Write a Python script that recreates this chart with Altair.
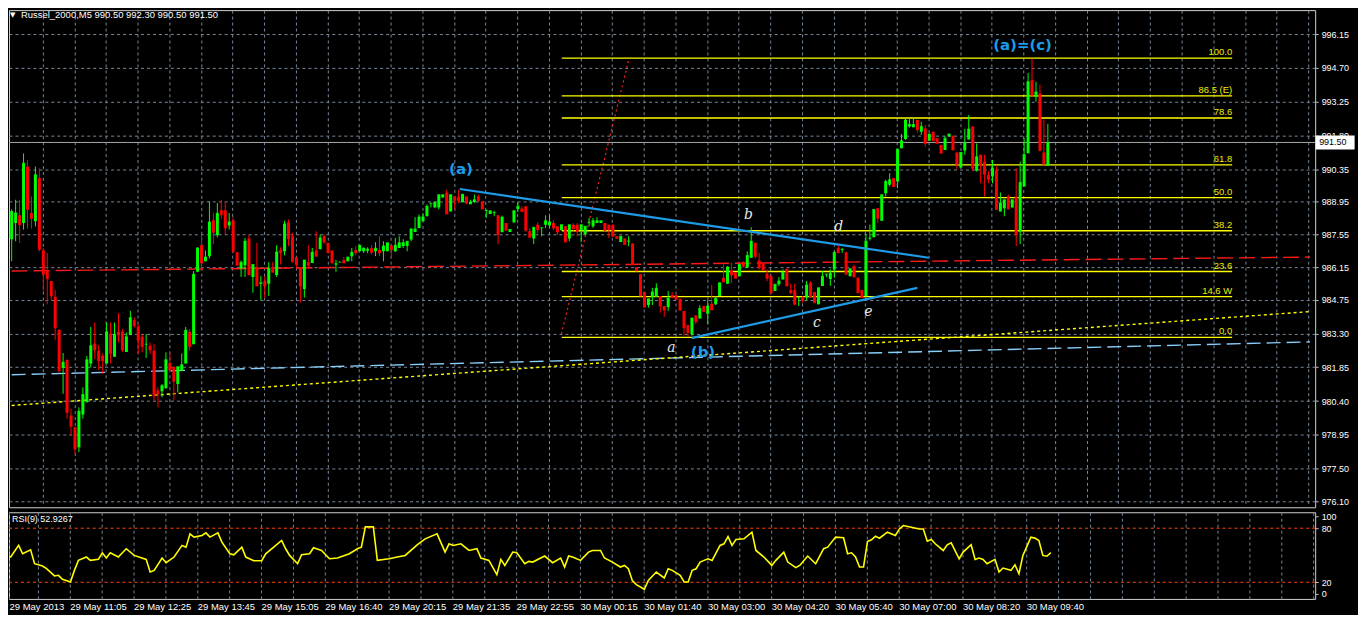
import json
import altair as alt
import pandas as pd

# ---------------- data ----------------
O = [
987.35, 988.04, 988.37, 988.04, 990.47, 988.47, 988.12, 989.97, 986.86, 985.98,
985.55, 984.88, 983.46, 981.82, 982.17, 979.78, 979.28, 978.42, 979.82, 980.35,
982.01, 982.87, 982.56, 982.34, 982.01, 983.30, 982.30, 983.37, 983.37, 982.51,
983.24, 983.88, 983.60, 983.16, 982.84, 982.77, 982.56, 980.85, 980.82, 980.96,
982.03, 981.87, 981.13, 981.70, 982.01, 983.37, 982.84, 985.95, 987.09, 986.40,
986.62, 988.16, 987.52, 988.59, 988.59, 987.94, 988.16, 986.79, 986.09, 986.23,
987.38, 985.72, 986.15, 985.43, 985.55, 985.43, 986.15, 985.81, 986.88, 986.83,
988.07, 987.47, 986.58, 986.12, 985.21, 986.36, 986.33, 986.86, 986.93, 987.47,
987.19, 986.86, 986.26, 986.36, 986.45, 986.40, 986.62, 986.88, 986.83, 986.83,
986.85, 986.96, 986.83, 986.88, 986.83, 986.83, 987.08, 986.83, 986.97, 987.05,
987.05, 987.33, 987.66, 987.83, 988.12, 988.33, 988.88, 988.71, 988.71, 989.14,
989.35, 988.54, 989.18, 989.18, 988.93, 989.18, 988.85, 988.94, 989.18, 988.97,
988.57, 988.43, 988.47, 988.37, 987.65, 988.04, 987.66, 988.07, 988.64, 988.66,
988.76, 987.69, 987.38, 987.97, 987.83, 987.97, 987.94, 988.04, 987.90, 987.73,
987.90, 987.38, 987.97, 987.97, 987.73, 987.55, 988.04, 987.90, 988.04, 988.04,
988.04, 987.97, 987.97, 987.47, 987.23, 987.38, 987.26, 987.16, 986.15, 985.84,
985.08, 984.52, 984.87, 984.87, 984.91, 984.48, 984.44, 984.95, 984.95, 984.79,
984.27, 983.66, 983.27, 984.08, 983.94, 984.48, 984.15, 984.58, 984.55, 984.91,
985.69, 985.43, 986.01, 985.93, 985.76, 986.37, 986.12, 986.55, 987.19, 986.43,
986.33, 985.86, 985.76, 985.12, 985.41, 985.62, 986.08, 985.17, 985.17, 984.84,
984.84, 984.84, 985.48, 985.08, 984.55, 985.34, 985.84, 985.64, 986.05, 986.97,
986.89, 986.79, 985.76, 986.19, 985.69, 985.17, 984.91, 987.38, 987.43, 988.68,
988.14, 989.32, 989.68, 989.97, 989.82, 991.25, 991.65, 992.18, 992.15, 992.46,
991.96, 992.10, 991.57, 991.96, 991.68, 991.39, 991.18, 991.75, 991.79, 991.07,
990.42, 991.15, 991.63, 992.18, 990.28, 990.97, 990.68, 990.11, 990.04, 990.33,
988.54, 988.68, 989.18, 988.71, 989.18, 987.69, 989.61, 991.04, 994.17, 993.46,
993.60, 991.07, 990.50]

C = [
988.54, 988.47, 987.97, 990.61, 988.62, 988.23, 990.11, 986.90, 985.84, 985.65,
984.91, 983.55, 981.70, 982.06, 979.92, 979.32, 978.36, 979.96, 980.68, 982.17,
982.77, 982.59, 982.13, 982.13, 983.37, 982.44, 983.27, 983.24, 982.59, 983.16,
983.98, 983.63, 983.03, 982.74, 982.84, 982.59, 980.63, 980.71, 981.06, 982.17,
981.73, 981.25, 981.87, 981.96, 983.44, 982.74, 985.84, 986.97, 986.33, 986.58,
988.09, 987.65, 988.46, 988.40, 987.83, 988.09, 986.83, 986.23, 986.36, 987.26,
985.81, 986.26, 985.34, 985.48, 985.34, 986.09, 985.93, 986.80, 986.76, 988.00,
987.36, 986.40, 986.26, 985.34, 986.45, 986.23, 986.79, 986.62, 987.40, 987.23,
986.76, 986.33, 986.29, 986.37, 986.33, 986.58, 986.79, 986.76, 987.09, 986.97,
986.92, 986.79, 986.96, 986.76, 987.05, 987.19, 986.90, 987.09, 987.19, 987.19,
987.26, 987.79, 987.79, 988.30, 988.30, 988.76, 988.89, 988.93, 989.26, 989.26,
988.43, 989.26, 989.01, 989.01, 989.28, 988.90, 988.94, 989.04, 989.01, 988.64,
988.58, 988.57, 988.48, 987.55, 988.29, 987.73, 987.76, 988.57, 988.76, 988.54,
987.73, 987.43, 987.86, 987.76, 987.84, 988.14, 988.09, 987.83, 987.66, 987.97,
987.23, 987.97, 987.80, 987.69, 987.97, 987.90, 988.05, 988.14, 988.14, 988.14,
987.73, 987.76, 987.47, 987.38, 987.47, 987.12, 987.27, 986.26, 985.98, 984.91,
984.44, 984.79, 985.08, 985.24, 984.48, 984.31, 984.81, 984.84, 984.77, 984.30,
983.55, 983.34, 983.96, 983.81, 984.37, 984.24, 984.48, 984.31, 984.81, 985.48,
985.51, 986.15, 985.81, 985.67, 986.26, 986.19, 986.65, 987.26, 986.62, 986.12,
986.01, 985.67, 985.05, 985.41, 985.55, 985.93, 985.34, 985.05, 984.55, 984.85,
984.73, 985.38, 984.87, 984.62, 985.26, 985.76, 985.85, 985.89, 986.79, 986.76,
986.90, 985.84, 986.08, 985.72, 985.05, 984.84, 987.26, 987.40, 988.62, 988.23,
989.26, 989.82, 989.90, 989.61, 991.21, 991.57, 992.46, 992.27, 992.27, 992.06,
992.18, 991.46, 991.86, 991.57, 991.46, 991.04, 991.68, 991.86, 991.18, 990.56,
991.07, 991.49, 992.08, 990.39, 990.89, 990.51, 990.14, 989.92, 990.39, 988.62,
988.90, 989.04, 988.64, 989.04, 987.55, 989.78, 990.97, 994.10, 993.53, 993.67,
991.15, 990.56, 991.50]

H = [
988.63, 989.04, 989.04, 991.03, 990.75, 989.18, 990.47, 990.39, 986.97, 986.76,
985.55, 985.17, 983.46, 982.46, 982.17, 980.07, 979.28, 980.13, 980.99, 982.34,
983.58, 983.77, 982.81, 982.44, 983.77, 983.77, 983.77, 984.17, 983.49, 983.34,
984.27, 983.98, 983.70, 983.27, 983.27, 982.91, 982.84, 980.99, 981.13, 982.49,
982.49, 981.87, 981.87, 982.44, 983.58, 983.49, 985.98, 987.00, 987.55, 986.86,
988.97, 988.47, 988.90, 989.04, 988.97, 988.47, 988.30, 986.79, 986.43, 987.40,
987.55, 986.26, 987.19, 985.76, 985.76, 986.36, 986.36, 987.09, 987.00, 988.14,
988.19, 987.61, 986.58, 986.15, 986.45, 987.09, 986.97, 987.69, 987.55, 987.55,
987.19, 986.86, 986.45, 986.38, 986.58, 986.58, 986.97, 987.05, 987.09, 986.97,
987.00, 987.09, 987.22, 987.47, 987.26, 987.19, 987.09, 987.40, 987.47, 987.35,
987.26, 987.82, 988.29, 988.41, 988.46, 988.84, 988.90, 988.93, 989.27, 989.26,
989.47, 989.26, 989.18, 989.47, 989.28, 989.18, 989.04, 989.26, 989.26, 988.97,
988.62, 988.57, 988.57, 988.37, 988.36, 988.04, 987.76, 988.57, 988.90, 988.76,
988.76, 987.83, 987.86, 988.07, 987.85, 988.37, 988.37, 988.16, 987.90, 987.97,
987.90, 987.97, 988.04, 988.04, 987.97, 987.90, 988.26, 988.26, 988.29, 988.14,
988.04, 987.97, 987.97, 987.47, 987.47, 987.38, 987.47, 987.16, 986.15, 985.84,
985.08, 984.79, 985.26, 985.45, 984.91, 984.48, 985.12, 985.08, 984.95, 984.79,
984.27, 983.66, 983.96, 984.08, 984.51, 984.48, 984.73, 985.38, 984.91, 985.48,
986.33, 986.19, 986.33, 985.93, 986.29, 986.40, 986.83, 987.86, 987.19, 986.76,
986.33, 986.05, 985.84, 985.41, 985.72, 986.05, 986.08, 985.44, 985.44, 984.85,
984.91, 985.55, 985.55, 985.08, 985.26, 985.98, 985.85, 986.05, 986.79, 987.12,
986.97, 986.79, 986.08, 986.26, 985.69, 985.17, 987.55, 987.97, 988.62, 988.68,
989.26, 989.90, 990.18, 989.97, 991.21, 991.86, 992.56, 992.53, 992.56, 992.46,
992.39, 992.25, 991.86, 991.96, 991.68, 991.39, 991.79, 991.86, 991.79, 991.07,
991.07, 992.08, 992.68, 992.18, 991.46, 990.97, 990.97, 990.28, 990.75, 990.47,
989.35, 989.04, 989.26, 989.04, 990.39, 990.68, 991.68, 994.48, 995.10, 994.10,
993.98, 992.49, 992.30]

L = [
986.40, 987.26, 987.19, 987.76, 987.80, 987.80, 987.90, 986.83, 985.12, 984.55,
984.70, 983.03, 981.60, 980.71, 979.64, 978.92, 978.15, 978.21, 979.64, 980.35,
981.84, 982.20, 981.73, 981.56, 982.01, 982.01, 982.30, 982.91, 982.51, 982.51,
983.24, 983.55, 982.42, 982.49, 982.25, 982.42, 980.42, 980.13, 980.56, 980.92,
981.70, 980.42, 980.77, 981.70, 982.01, 982.56, 982.84, 985.93, 985.98, 986.40,
986.52, 987.14, 987.43, 988.23, 987.55, 987.76, 986.73, 986.23, 985.73, 985.73,
985.81, 985.05, 985.34, 984.74, 984.84, 984.91, 985.93, 985.72, 986.26, 986.66,
987.05, 986.33, 986.09, 984.62, 984.84, 986.09, 986.33, 986.62, 986.90, 987.14,
986.76, 986.33, 985.95, 986.35, 986.33, 986.40, 986.40, 986.66, 986.83, 986.76,
986.75, 986.70, 986.62, 986.62, 986.40, 986.83, 986.53, 986.80, 986.97, 986.97,
986.83, 987.26, 987.66, 987.82, 988.12, 988.33, 988.71, 988.71, 988.63, 989.14,
988.43, 988.54, 988.63, 988.90, 988.93, 988.85, 988.85, 988.90, 988.97, 988.64,
988.26, 988.43, 988.33, 987.14, 987.65, 987.73, 987.66, 988.04, 988.51, 988.54,
987.66, 987.40, 987.14, 987.61, 987.47, 987.83, 987.83, 987.73, 987.52, 987.73,
987.23, 987.26, 987.69, 987.47, 987.23, 987.55, 987.90, 987.83, 988.04, 988.04,
987.69, 987.40, 987.47, 987.38, 987.23, 987.12, 987.05, 986.23, 985.98, 984.91,
984.41, 984.41, 984.52, 984.87, 984.19, 984.01, 984.27, 984.84, 984.77, 984.30,
983.20, 983.17, 983.20, 983.70, 983.94, 984.24, 983.70, 984.31, 984.52, 984.91,
985.51, 985.43, 985.48, 985.67, 985.76, 986.12, 986.12, 986.55, 986.53, 986.05,
986.01, 985.55, 984.98, 985.12, 985.34, 985.62, 985.34, 984.98, 984.52, 984.48,
984.62, 984.73, 984.87, 984.62, 984.55, 985.34, 985.72, 985.34, 985.69, 986.76,
986.76, 985.84, 985.76, 985.72, 985.05, 984.84, 984.84, 987.29, 987.43, 988.04,
988.14, 989.18, 989.61, 989.61, 989.54, 991.25, 991.61, 992.13, 992.15, 991.93,
991.82, 991.32, 991.57, 991.57, 991.46, 991.04, 991.18, 991.75, 991.18, 990.34,
990.42, 990.97, 991.63, 990.28, 990.25, 989.75, 989.18, 989.75, 989.75, 988.62,
988.54, 988.33, 988.64, 988.71, 987.05, 987.14, 989.61, 991.04, 993.53, 993.25,
991.15, 990.56, 990.50]

rsi_bar = [0, 1, 3, 4, 6, 7, 9, 10, 12, 13, 14, 16, 17, 18, 20, 21, 23, 24, 25, 26,
           28, 30, 32, 35, 36, 37, 39, 40, 42, 44, 45, 46, 47, 49, 50, 51, 53, 54, 56, 57,
           59, 60, 62, 64, 65, 67, 69, 70, 71, 73, 74, 76, 77, 79, 81, 83, 86, 88, 89, 90,
           92, 93, 96, 98, 100, 103, 105, 108, 110, 111, 112, 114, 116, 118, 119, 121, 123, 124, 125, 127,
           128, 130, 131, 132, 135, 137, 139, 140, 141, 142, 144, 146, 147, 149, 150, 152, 154, 155, 156, 157,
           158, 160, 161, 163, 165, 166, 167, 169, 170, 171, 172, 173, 174, 175, 176, 177, 179, 180, 181, 182,
           183, 185, 187, 188, 190, 192, 193, 195, 196, 198, 199, 201, 203, 205, 206, 208, 210, 211, 212, 213,
           214, 215, 216, 217, 218, 219, 221, 223, 224, 225, 227, 229, 230, 231, 232, 233, 235, 236, 237, 239,
           240, 242, 243, 244, 245, 246, 248, 249, 250, 252, 253, 254, 255, 257, 258, 259, 260, 261, 262]
rsi_val = [49.8, 48.0, 60.9, 51.6, 56.0, 40.6, 38.0, 35.1, 27.0, 27.7, 23.3, 20.3, 33.2, 44.3, 48.0, 44.3, 45.4, 52.7, 46.9, 52.7,
           48.0, 57.2, 49.8, 45.4, 31.4, 33.2, 46.9, 41.7, 48.0, 60.9, 59.0, 73.7, 70.1, 71.9, 74.8, 70.1, 74.8, 64.5, 51.6, 50.5,
           59.0, 48.0, 43.9, 43.9, 51.6, 59.0, 66.4, 57.2, 49.8, 40.6, 50.5, 51.6, 58.3, 55.3, 46.1, 46.9, 51.6, 57.2, 59.0, 81.5,
           81.5, 44.3, 46.1, 48.0, 49.8, 61.6, 68.2, 73.7, 53.5, 62.7, 60.9, 62.7, 55.3, 57.2, 46.9, 44.3, 28.4, 45.4, 38.7, 53.5,
           52.7, 40.6, 43.2, 42.4, 49.1, 41.7, 46.9, 36.9, 49.1, 48.0, 44.3, 53.5, 55.3, 55.3, 46.9, 42.4, 36.9, 38.7, 35.0, 21.8,
           17.4, 12.2, 22.1, 31.4, 24.8, 35.0, 33.2, 27.7, 20.3, 20.3, 33.2, 35.0, 42.4, 44.3, 46.1, 44.3, 60.9, 62.7, 70.8, 60.9,
           67.5, 68.2, 75.6, 55.3, 48.0, 38.7, 44.3, 53.5, 42.4, 36.2, 38.7, 49.1, 40.6, 57.2, 59.0, 70.1, 69.4, 51.6, 52.7, 48.0,
           36.9, 36.9, 65.3, 67.1, 71.2, 68.9, 75.6, 71.9, 79.2, 82.9, 81.1, 79.2, 79.2, 65.6, 67.5, 62.7, 55.3, 61.6, 63.8, 46.1,
           53.5, 61.6, 45.4, 46.9, 45.4, 40.6, 45.4, 31.4, 35.8, 33.2, 39.4, 29.5, 49.8, 70.1, 69.0, 66.4, 49.8, 48.9, 52.9267]
rsi_levels = [80, 20]

price_ticks = [996.15, 994.70, 993.25, 991.80, 990.35, 988.95, 987.55, 986.15,
               984.75, 983.30, 981.85, 980.40, 978.95, 977.50, 976.10]
time_labels = ["29 May 2013", "29 May 11:05", "29 May 12:25", "29 May 13:45", "29 May 15:05",
               "29 May 16:40", "29 May 20:15", "29 May 21:35", "29 May 22:55", "30 May 00:15",
               "30 May 01:40", "30 May 03:00", "30 May 04:20", "30 May 05:40", "30 May 07:00",
               "30 May 08:20", "30 May 09:40"]

fib_price = [995.12, 993.50, 992.55, 990.54, 989.13, 987.71, 985.96, 984.88, 983.13]
fib_text = ["100.0", "86.5 (E)", "78.6", "61.8", "50.0", "38.2", "23.6", "14.6 W", "0.0"]
fib_from_bar, fib_to_bar = 139.1, 308.6

# drawn lines: (bar, price) end points
red_dash_bar, red_dash_price = [0, 328.3], [985.98, 986.58]
blue_dash_bar, blue_dash_price = [0, 328.3], [981.53, 982.94]
yel_dot_bar, yel_dot_price = [0, 328.3], [980.21, 984.24]
red_dot_bar, red_dot_price = [139.0, 156.1], [983.28, 995.10]
upper_bar, upper_price = [113.3, 231.9], [989.50, 986.55]
lower_bar, lower_price = [171.9, 229.0], [983.10, 985.26]

wave_text = ["(a)", "(b)", "(a)=(c)"]
wave_bar = [113.6, 174.8, 255.6]
wave_price = [990.34, 982.51, 995.68]
small_text = ["a", "b", "c", "d", "e"]
small_bar = [166.8, 186.3, 203.6, 209.1, 216.6]
small_price = [982.69, 988.37, 983.75, 987.86, 984.22]

last_price = 991.50
header = "Russel_2000,M5  990.50 992.30 990.50 991.50"
rsi_header = "RSI(9) 52.9267"

# ---------------- chart ----------------
FONT = "Liberation Sans"
W, H_MAIN, H_RSI = 1311, 499, 87
GRID = "#778899"
BLUE = "#1e9be6"

candles = pd.DataFrame({"bar": list(range(len(C))), "open": O, "high": H, "low": L, "close": C})
candles["dir"] = ["up" if c >= o else "down" for o, c in zip(O, C)]
dir_color = alt.Color("dir:N", scale=alt.Scale(domain=["up", "down"], range=["#00ff00", "#ff0000"]), legend=None)

xs = alt.Scale(domain=[0.58, 328.33], nice=False, zero=False)
ys = alt.Scale(domain=[975.84, 997.18], nice=False, zero=False)
grid_vals = [round(7.83 + 8 * k, 2) for k in range(41)]

x_axis_main = alt.Axis(values=grid_vals, labels=False, ticks=False, domain=False, grid=True,
                       gridColor=GRID, gridDash=[3, 3], gridOpacity=1, title=None)
y_axis_main = alt.Axis(orient="right", values=price_ticks, format=".2f", labelColor="#ffffff",
                       labelFont=FONT, labelFontSize=9, tickColor="#c0c0c0", tickSize=3,
                       labelPadding=3, domain=False, grid=True, gridColor=GRID, gridDash=[3, 3],
                       gridOpacity=1, title=None, labelOverlap=False, labelBound=False)


def X(f):
    return alt.X(f, type="quantitative", scale=xs, axis=x_axis_main)


def Y(f):
    return alt.Y(f, type="quantitative", scale=ys, axis=y_axis_main)


base = alt.Chart(candles)
wicks = base.mark_rule(strokeWidth=1, clip=True).encode(x=X("bar"), y=Y("low"), y2="high", color=dir_color)
bodies = base.mark_bar(size=3, clip=True).encode(x=X("bar"), y=Y("open"), y2="close", color=dir_color)
dojis = base.mark_tick(orient="horizontal", size=3, thickness=1, clip=True).encode(
    x=X("bar"), y=Y("close"), color=dir_color)


def seg(bars, prices, color, width, dash=None):
    df = pd.DataFrame({"bar": bars, "price": prices})
    kw = dict(color=color, strokeWidth=width, clip=True)
    if dash:
        kw["strokeDash"] = dash
    return alt.Chart(df).mark_line(**kw).encode(x=X("bar"), y=Y("price"))


red_dash = seg(red_dash_bar, red_dash_price, "#ff1a1a", 1.4, [16, 6])
blue_dash = seg(blue_dash_bar, blue_dash_price, "#87cefa", 1.4, [14, 6])
yel_dot = seg(yel_dot_bar, yel_dot_price, "#ffff00", 1.4, [3, 3])
red_dot = seg(red_dot_bar, red_dot_price, "#ff2020", 1.2, [2, 3])
upper = seg(upper_bar, upper_price, BLUE, 2.2)
lower = seg(lower_bar, lower_price, BLUE, 2.2)

fib_df = pd.DataFrame({"price": fib_price, "text": fib_text,
                       "x1": [fib_from_bar] * len(fib_price), "x2": [fib_to_bar] * len(fib_price)})
fib_lines = alt.Chart(fib_df).mark_rule(color="#ffff00", strokeWidth=1.3).encode(x=X("x1"), x2="x2", y=Y("price"))
fib_labels = alt.Chart(fib_df).mark_text(align="right", baseline="bottom", dy=-1, color="#eeee00",
                                         font=FONT, fontSize=9.5).encode(x=X("x2"), y=Y("price"), text="text")

last_df = pd.DataFrame({"price": [last_price], "label": [f"{last_price:.2f}"]})
last_line = alt.Chart(last_df).mark_rule(color="#a8a8a8", strokeWidth=1).encode(y=Y("price"))
last_box = alt.Chart(last_df).mark_point(shape="M-1.4,-0.5L1.4,-0.5L1.4,0.5L-1.4,0.5Z", size=784,
                                         filled=True, color="#ffffff", opacity=1, strokeWidth=0).encode(
    x=alt.value(W + 20), y=Y("price"))
last_text = alt.Chart(last_df).mark_text(align="left", baseline="middle", color="#000000",
                                         font=FONT, fontSize=9).encode(
    x=alt.value(W + 4), y=Y("price"), text="label")

wave_df = pd.DataFrame({"bar": wave_bar, "price": wave_price, "text": wave_text})
waves = alt.Chart(wave_df).mark_text(color=BLUE, font="DejaVu Sans", fontSize=15, fontWeight="bold").encode(
    x=X("bar"), y=Y("price"), text="text")
small_df = pd.DataFrame({"bar": small_bar, "price": small_price, "text": small_text})
smalls = alt.Chart(small_df).mark_text(color="#e8e8e8", font="DejaVu Serif", fontSize=14,
                                       fontStyle="italic").encode(x=X("bar"), y=Y("price"), text="text")

head_df = pd.DataFrame({"t": [header], "tri": ["\u25bc"]})
head = alt.Chart(head_df).mark_text(align="left", baseline="middle", color="#ffffff", font=FONT,
                                    fontSize=9.5).encode(x=alt.value(12), y=alt.value(5), text="t")
tri = alt.Chart(head_df).mark_text(align="left", baseline="middle", color="#ffffff", font="DejaVu Sans",
                                   fontSize=7).encode(x=alt.value(1), y=alt.value(5), text="tri")

main = alt.layer(red_dash, blue_dash, yel_dot, red_dot, fib_lines, fib_labels, last_line,
                 wicks, bodies, dojis, upper, lower, waves, smalls, last_box, last_text,
                 head, tri).properties(width=W, height=H_MAIN)

# ---------------- RSI panel ----------------
lab_js = json.dumps(time_labels)
x_label_expr = (f"datum.value < 5 ? {lab_js}[0] : (round((datum.value + 0.17) / 8) % 2 == 0 ? "
                f"({lab_js}[round((datum.value + 0.17) / 16)] || '') : '')")
x_axis_rsi = alt.Axis(values=[0.6] + grid_vals, labelExpr=x_label_expr, labelColor="#ffffff", labelFont=FONT,
                      labelFontSize=9.5, labelAlign="left", labelPadding=3, labelOverlap=False,
                      labelFlush=False, labelBound=False, ticks=False, domain=False, grid=True,
                      gridColor=GRID, gridDash=[3, 3], gridOpacity=1, title=None)
rs = alt.Scale(domain=[1.5, 97.7], nice=False, zero=False)
y_axis_rsi = alt.Axis(orient="right", values=[93.3, 80, 20, 7.1],
                      labelExpr="datum.value > 90 ? '100' : (datum.value < 10 ? '0' : format(datum.value, 'd'))",
                      labelColor="#ffffff", labelFont=FONT, labelFontSize=9, tickColor="#c0c0c0", tickSize=3,
                      labelPadding=3, domain=False, grid=False, title=None, labelOverlap=False)

rsi_df = pd.DataFrame({"bar": rsi_bar, "rsi": rsi_val})
rsi_line = alt.Chart(rsi_df).mark_line(color="#ffff00", strokeWidth=1.6, clip=True).encode(
    x=alt.X("bar:Q", scale=xs, axis=x_axis_rsi), y=alt.Y("rsi:Q", scale=rs, axis=y_axis_rsi))
lev_df = pd.DataFrame({"lvl": rsi_levels})
rsi_lev = alt.Chart(lev_df).mark_rule(color="#ff4500", strokeWidth=1, strokeDash=[3, 3]).encode(
    y=alt.Y("lvl:Q", scale=rs, axis=y_axis_rsi))
rsi_head = alt.Chart(pd.DataFrame({"t": [rsi_header]})).mark_text(
    align="left", baseline="middle", color="#ffffff", font=FONT, fontSize=9).encode(
    x=alt.value(3), y=alt.value(7), text="t")

rsi = alt.layer(rsi_lev, rsi_line, rsi_head).properties(width=W, height=H_RSI)

chart = alt.vconcat(main, rsi, spacing=3).properties(
    padding={"left": 0, "top": 0, "right": 2, "bottom": 2}
).configure(background="#000000").configure_view(stroke="#d0d0d0", strokeWidth=1)

chart.save("out.html", embed_options={"renderer": "svg", "actions": False})
